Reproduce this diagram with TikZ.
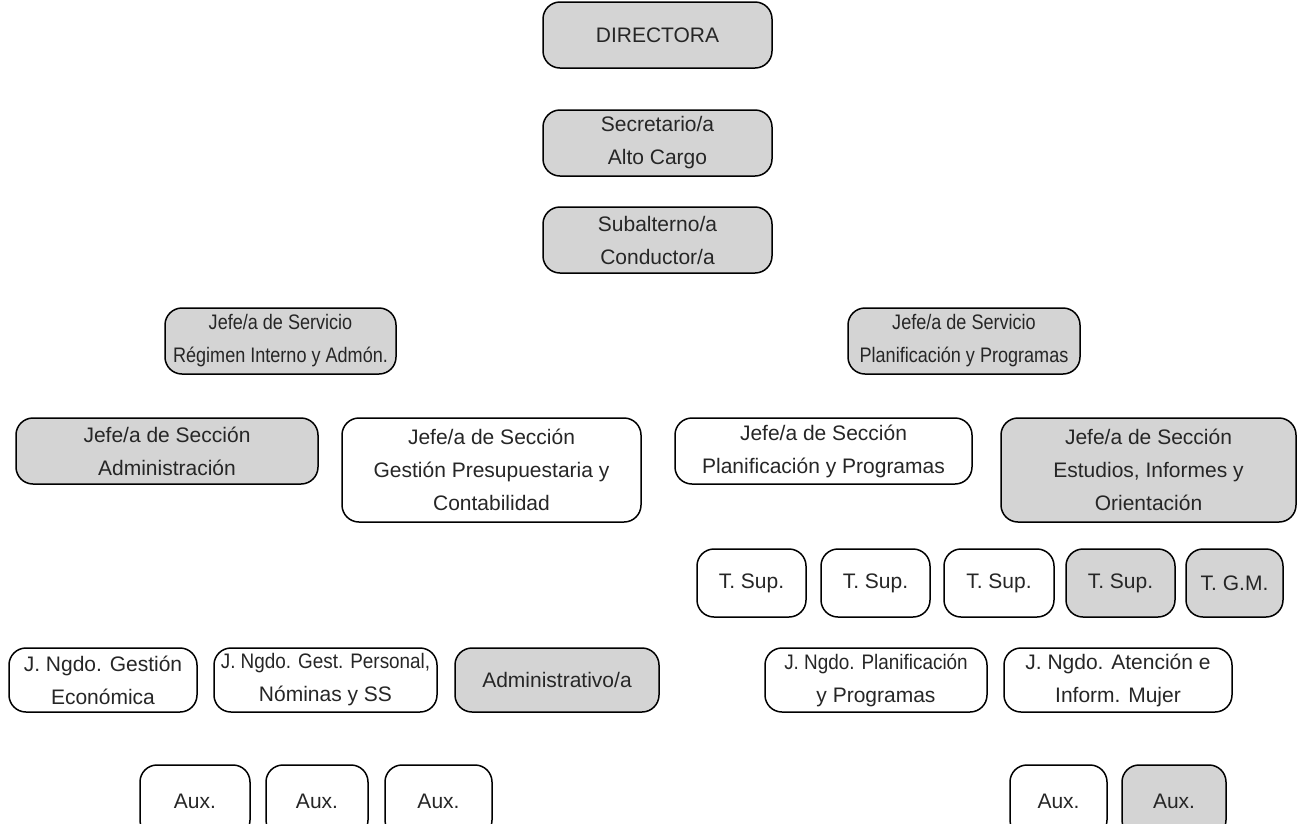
\documentclass[tikz,border=0pt]{standalone}
\usepackage{fontspec}
\setmainfont{Liberation Sans}
\definecolor{boxgray}{RGB}{212,212,212}
\tikzset{
  orgbox/.style={draw=black, line width=1.5pt, rounded corners=17pt, align=center,
    inner sep=0pt, font=\fontsize{21}{33}\selectfont, text=black!85},
  shaded/.style={orgbox, fill=boxgray},
  plain/.style={orgbox, fill=white},
  sz/.style 2 args={minimum width=#1pt, minimum height=#2pt}
}
% horizontally condensed lines of text
\newcommand{\narrowtext}[1]{\scalebox{0.9}[1]{#1}}
\newcommand{\svcline}[1]{\scalebox{0.86}[1]{#1}}
\begin{document}
\begin{tikzpicture}[x=1pt, y=-1pt]
\useasboundingbox (0,0) rectangle (1298,823);
\clip (0,0) rectangle (1298,823);
\fill[white] (0,0) rectangle (1298,823);

% top of the hierarchy
\node[shaded, sz={229}{66}] (dir) at (657.5,35) {DIRECTORA};
\node[shaded, sz={229}{66}] (sec) at (657.5,143) {Secretario/a\\Alto Cargo};
\node[shaded, sz={229}{66}] (sub) at (657.5,240) {Subalterno/a\\Conductor/a};

% services
\node[shaded, sz={231}{66}] (jsr) at (280.5,341) {\svcline{Jefe/a de Servicio}\\\svcline{Régimen Interno y Admón.}};
\node[shaded, sz={232}{66}] (jsp) at (964,341) {\svcline{Jefe/a de Servicio}\\\svcline{Planificación y Programas}};

% sections
\node[shaded, sz={302}{66}] (jsa) at (167,451) {Jefe/a de Sección\\Administración};
\node[plain, sz={299}{104}] (jsg) at (491.5,470) {Jefe/a de Sección\\Gestión Presupuestaria y\\Contabilidad};
\node[plain, sz={297}{66}] (jspp) at (823.5,451) {Jefe/a de Sección\\Planificación y Programas};
\node[shaded, sz={295}{104}] (jse) at (1148.5,470) {Jefe/a de Sección\\Estudios, Informes y\\Orientación};

% technicians
\node[plain, sz={109}{68}] (ts1) at (751.5,583) {T. Sup.};
\node[plain, sz={109}{68}] (ts2) at (875.5,583) {T. Sup.};
\node[plain, sz={110}{68}] (ts3) at (999,583) {T. Sup.};
\node[shaded, sz={109}{68}] (ts4) at (1120.5,583) {T. Sup.};
\node[shaded, sz={97}{68}] (tgm) at (1234.5,583) {T. G.M.};

% negotiated posts
\node[plain, sz={188}{64}] (ng1) at (103,680) {J. Ngdo. Gestión\\Económica};
\node[plain, sz={223}{64}] (ng2) at (325.5,680) {\narrowtext{J. Ngdo. Gest. Personal,}\\Nóminas y SS};
\node[shaded, sz={204}{64}] (adm) at (557,680) {Administrativo/a};
\node[plain, sz={222}{64}] (ng3) at (876,680) {\narrowtext{J. Ngdo. Planificación}\\y Programas};
\node[plain, sz={228}{64}] (ng4) at (1118,680) {J. Ngdo. Atención e\\Inform. Mujer};

% auxiliaries
\node[plain, sz={110}{72}] (ax1) at (195,801) {Aux.};
\node[plain, sz={102}{72}] (ax2) at (317,801) {Aux.};
\node[plain, sz={107}{72}] (ax3) at (438.5,801) {Aux.};
\node[plain, sz={97}{72}] (ax4) at (1058.5,801) {Aux.};
\node[shaded, sz={104}{72}] (ax5) at (1174,801) {Aux.};
\end{tikzpicture}
\end{document}
